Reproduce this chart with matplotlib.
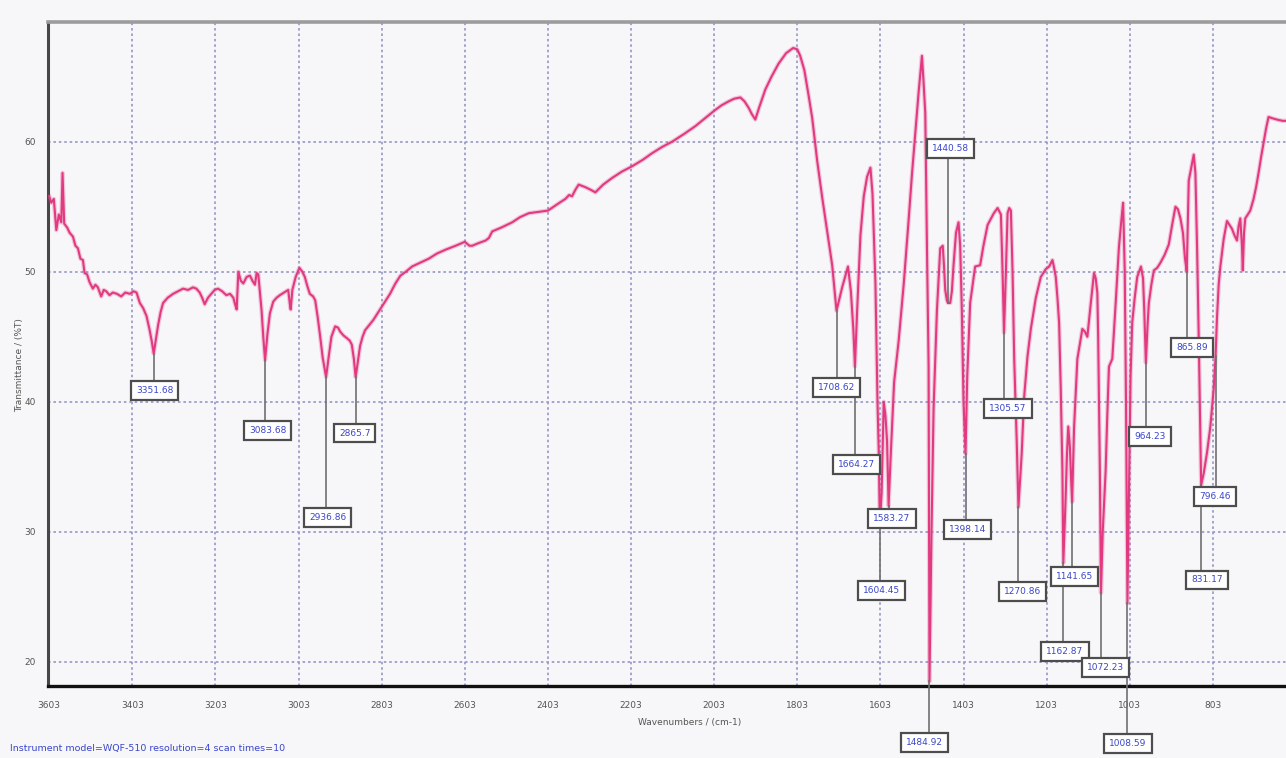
import numpy as np
import matplotlib
matplotlib.use('Agg')
import matplotlib.pyplot as plt

plt.rcParams['font.family'] = ['DejaVu Sans']

# FTIR spectrum, read point by point (wavenumber in cm-1, transmittance in %T)
wavenumber = [
    3603, 3598, 3592, 3588, 3586, 3580, 3574, 3571, 3567, 3560, 3554, 3546, 3540, 3534,
    3528, 3522, 3518, 3512, 3506, 3498, 3492, 3486, 3478, 3472, 3466, 3458, 3450, 3440,
    3430, 3420, 3409, 3400, 3393, 3385, 3377, 3369, 3362, 3356, 3351.68, 3346, 3341, 3335,
    3329, 3318, 3305, 3293, 3281, 3269, 3257, 3249, 3241, 3235, 3229, 3221, 3213, 3205,
    3197, 3187, 3177, 3168, 3160, 3155, 3152, 3148, 3142, 3136, 3128, 3120, 3114, 3108,
    3104, 3100, 3096, 3092, 3088, 3083.68, 3078, 3072, 3064, 3056, 3048, 3038, 3028, 3024,
    3022, 3018, 3010, 3001, 2994, 2988, 2982, 2976, 2968, 2963, 2957, 2951, 2945, 2936.86,
    2930, 2924, 2915, 2908, 2903, 2895, 2887, 2880, 2875, 2870, 2865.7, 2860, 2855, 2849,
    2843, 2833, 2823, 2813, 2803, 2793, 2783, 2770, 2758, 2745, 2730, 2710, 2690, 2670,
    2649, 2625, 2603, 2592, 2585, 2570, 2553, 2545, 2537, 2515, 2489, 2470, 2449, 2425,
    2403, 2380, 2361, 2352, 2345, 2337, 2329, 2313, 2300, 2289, 2270, 2249, 2225, 2201,
    2175, 2153, 2128, 2104, 2075, 2048, 2025, 2002, 1985, 1968, 1955, 1940, 1930, 1920,
    1912, 1904, 1895, 1880, 1865, 1848, 1830, 1813, 1803, 1796, 1786, 1776, 1767, 1755,
    1743, 1719, 1708.62, 1695, 1681, 1674, 1668, 1664.27, 1659, 1651, 1643, 1635, 1627,
    1622, 1615, 1610, 1607, 1604.45, 1600, 1595, 1591, 1587, 1583.27, 1578, 1570, 1559,
    1547, 1535, 1527, 1519, 1511, 1503, 1499, 1495, 1491, 1487, 1484.92, 1480, 1475, 1467,
    1459, 1453, 1450, 1447, 1443, 1440.58, 1435, 1431, 1427, 1421, 1415, 1411, 1407, 1403,
    1398.14, 1394, 1387, 1375, 1363, 1355, 1345, 1330, 1321, 1313, 1309, 1305.57, 1301,
    1297, 1293, 1289, 1285, 1281, 1275, 1270.86, 1263, 1257, 1249, 1241, 1229, 1217, 1205,
    1197, 1189, 1185, 1181, 1177, 1173, 1169, 1165, 1162.87, 1158, 1154, 1151, 1147, 1144,
    1141.65, 1137, 1129, 1117, 1111, 1105, 1097, 1089, 1085, 1081, 1079, 1075, 1072.23,
    1068, 1061, 1057, 1053, 1045, 1037, 1029, 1023, 1019, 1015, 1012, 1008.59, 1004, 1001,
    997, 991, 985, 976, 971, 968, 964.23, 960, 957, 951, 945, 937, 929, 919, 909, 901, 893,
    887, 881, 875, 870, 865.89, 863, 861, 855, 849, 845, 841, 837, 833, 831.17, 825, 817,
    809, 801, 796.46, 793, 789, 785, 777, 769, 763, 757, 751, 745, 741, 737, 733, 731, 728,
    725, 719, 713, 705, 699, 693, 687, 681, 675, 669, 660, 649, 635, 625,
]
transmittance = [
    55.8, 55.3, 55.6, 54.0, 53.2, 54.4, 53.8, 57.6, 53.7, 53.4, 53.0, 52.7, 52.0, 51.8,
    51.0, 50.9, 49.9, 49.8, 49.2, 48.7, 49.0, 48.8, 48.1, 48.6, 48.5, 48.2, 48.4, 48.3,
    48.1, 48.4, 48.3, 48.5, 48.4, 47.6, 47.2, 46.6, 45.6, 44.6, 43.7, 44.9, 45.9, 46.9,
    47.6, 48.0, 48.3, 48.5, 48.7, 48.6, 48.8, 48.7, 48.4, 48.0, 47.5, 48.0, 48.3, 48.6,
    48.7, 48.5, 48.2, 48.3, 48.0, 47.4, 47.1, 50.0, 49.3, 49.1, 49.6, 49.7, 49.3, 49.0,
    49.9, 49.8, 48.4, 47.0, 45.0, 43.2, 45.2, 46.8, 47.7, 48.0, 48.2, 48.4, 48.6, 47.5,
    47.1, 48.6, 49.6, 50.3, 50.0, 49.6, 48.9, 48.3, 48.1, 47.8, 46.5, 45.0, 43.4, 41.9,
    43.6, 45.0, 45.8, 45.7, 45.4, 45.1, 44.9, 44.7, 44.4, 43.3, 41.9, 43.2, 44.3, 45.0,
    45.5, 45.9, 46.3, 46.8, 47.3, 47.8, 48.3, 49.1, 49.7, 50.0, 50.4, 50.7, 51.0, 51.4,
    51.7, 52.0, 52.3, 52.0, 52.0, 52.2, 52.4, 52.6, 53.1, 53.4, 53.8, 54.2, 54.5, 54.6,
    54.7, 55.2, 55.6, 55.9, 55.8, 56.3, 56.7, 56.5, 56.3, 56.1, 56.7, 57.2, 57.7, 58.1,
    58.6, 59.1, 59.6, 60.0, 60.6, 61.2, 61.8, 62.4, 62.8, 63.1, 63.3, 63.4, 63.1, 62.6,
    62.1, 61.7, 62.6, 64.0, 65.0, 66.0, 66.8, 67.2, 67.1, 66.6, 65.5, 63.6, 61.8, 58.5,
    55.7, 50.5, 47.0, 48.8, 50.4, 48.5, 45.5, 42.7, 47.0, 52.8, 55.8, 57.3, 58.0,
    56.0, 49.2, 40.0, 36.2, 30.5, 33.0, 40.0, 39.0, 37.0, 32.0, 36.0, 41.5, 44.7,
    49.0, 54.0, 57.5, 60.6, 63.8, 66.6, 64.5, 62.2, 52.0, 42.7, 18.5, 30.0, 39.5, 47.0,
    51.8, 52.0, 50.5, 48.6, 47.8, 47.6, 47.6, 48.5, 50.5, 53.0, 53.8, 52.0, 47.0, 40.0,
    36.0, 42.0, 47.6, 50.4, 50.5, 52.0, 53.6, 54.5, 54.9, 54.4, 50.0, 45.3, 50.0,
    54.5, 54.9, 54.7, 50.0, 43.3, 37.0, 31.9, 36.0, 40.4, 43.5, 45.6, 48.0, 49.6, 50.2,
    50.4, 50.9, 50.3, 49.6, 48.0, 46.1, 41.0, 34.7, 27.6, 31.9, 36.0, 38.1, 36.5, 34.0,
    32.3, 38.0, 43.3, 45.6, 45.4, 45.0, 47.5, 49.9, 49.5, 48.4, 45.0, 35.0, 25.3,
    30.0, 34.7, 39.0, 42.7, 43.3, 47.5, 51.9, 54.0, 55.3, 50.0, 40.0, 24.5, 35.0, 42.0,
    46.1, 48.0, 49.6, 50.4, 49.5, 47.0, 43.0, 46.0, 47.6, 49.0, 50.1, 50.3, 50.7, 51.3, 52.1, 53.6, 55.0,
    54.8, 54.1, 53.0, 51.0, 50.0, 54.0, 57.0, 58.0, 59.0, 57.6, 51.9, 45.0, 37.0, 33.6, 34.5, 36.1,
    38.1, 41.0, 43.5, 46.5, 49.0, 50.4, 52.5, 53.9, 53.6, 53.3, 52.8, 52.4, 53.5, 54.1, 52.0, 50.1, 53.0,
    54.1, 54.4, 54.7, 55.6, 56.5, 57.6, 58.8, 59.9, 61.0, 61.9, 61.8, 61.7, 61.6, 61.6,
]

# labelled peaks
peak_wn = [3351.68, 3083.68, 2936.86, 2865.7, 1708.62, 1664.27, 1604.45, 1583.27,
           1484.92, 1440.58, 1398.14, 1305.57, 1270.86, 1162.87, 1141.65, 1072.23,
           1008.59, 964.23, 865.89, 831.17, 796.46]

x_ticks = [3603, 3403, 3203, 3003, 2803, 2603, 2403, 2203, 2003, 1803, 1603, 1403, 1203, 1003, 803]
y_ticks = [20, 30, 40, 50, 60]

# where each peak box sits (wavenumber, %T)
box_x = [3349, 3077, 2933, 2868, 1708, 1660, 1600, 1575,
         1496, 1435, 1394, 1296, 1262, 1159, 1135, 1062,
         1007, 954, 853, 817, 798]
box_y = [40.9, 37.8, 31.1, 37.6, 41.1, 35.2, 25.5, 31.0,
         13.8, 59.5, 30.2, 39.5, 25.4, 20.8, 26.6, 19.6,
         13.7, 37.3, 44.2, 26.3, 32.7]

BG = '#f7f7f9'
LINE = '#e13a80'
GRID = '#9c9ec9'
TXT_BLUE = '#3a46c8'


def main():
    fig = plt.figure(figsize=(12.86, 7.58), dpi=100, facecolor=BG)
    ax = fig.add_axes([48 / 1286, 1 - 686 / 758, 1 - 48 / 1286, (686 - 22) / 758])
    ax.set_facecolor(BG)

    ax.set_xlim(3606, 627)
    ax.set_ylim(18.15, 69.2)
    ax.set_xticks(x_ticks)
    ax.set_xticklabels([str(t) for t in x_ticks])
    ax.set_yticks(y_ticks)
    ax.set_yticklabels([str(t) for t in y_ticks])
    ax.tick_params(length=0, labelsize=6.5, labelcolor='#555555')
    ax.tick_params(axis='x', pad=11)
    ax.tick_params(axis='y', pad=9)

    ax.grid(True, color=GRID, linestyle=(0, (1.4, 1.6)), linewidth=1.3)
    ax.set_axisbelow(True)

    ax.spines['right'].set_visible(False)
    ax.spines['left'].set_color('#474747')
    ax.spines['left'].set_linewidth(2.2)
    ax.spines['bottom'].set_color('#111111')
    ax.spines['bottom'].set_linewidth(2.4)
    ax.spines['top'].set_color('#9c9c9c')
    ax.spines['top'].set_linewidth(2.6)

    wn = np.array(wavenumber)
    tr = np.array(transmittance)
    ax.plot(wn, tr, color=LINE, linewidth=3.2, alpha=0.25, zorder=3)
    ax.plot(wn, tr, color=LINE, linewidth=1.5, zorder=3)

    # peak markers: leader line from the curve to a boxed label
    wn_asc, tr_asc = wn[::-1], tr[::-1]
    for pk, bx, by in zip(peak_wn, box_x, box_y):
        y_curve = np.interp(pk, wn_asc, tr_asc)
        ax.plot([pk, pk], [y_curve, by], color='#707070', linewidth=1.2,
                zorder=4, clip_on=False)
        ax.text(bx, by, str(pk), ha='center', va='center', fontsize=6.5,
                color=TXT_BLUE, zorder=6, clip_on=False,
                bbox=dict(boxstyle='square,pad=0.55', fc='white', ec='#4d4d4d', lw=1.6))

    fig.text(690 / 1286, 1 - 723 / 758, 'Wavenumbers / (cm-1)', ha='center', va='center',
             fontsize=6.5, color='#555555')
    fig.text(20 / 1286, 1 - 365 / 758, 'Transmittance / (%T)', ha='center', va='center',
             rotation=90, fontsize=6.5, color='#555555')
    fig.text(10 / 1286, 1 - 748 / 758, 'Instrument model=WQF-510 resolution=4 scan times=10',
             ha='left', va='center', fontsize=6.8, color=TXT_BLUE)

    fig.savefig('out.png', dpi=100, facecolor=fig.get_facecolor())
    plt.close(fig)


if __name__ == '__main__':
    main()
